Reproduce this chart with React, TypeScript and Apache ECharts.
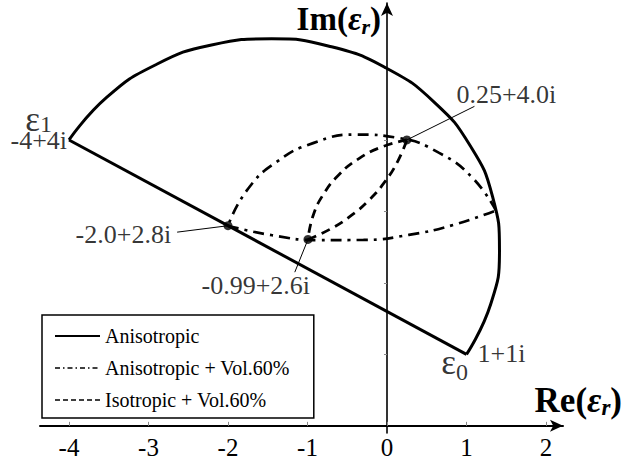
import React, { useEffect, useRef } from 'react';
import * as echarts from 'echarts';

const FONT = 'Liberation Serif';

const xTickValues = [-4, -3, -2, -1, 0, 1, 2];
const yTickValues = [1, 2, 3, 4, 5];

const seriesNames = ['Anisotropic', 'Anisotropic + Vol.60%', 'Isotropic + Vol.60%'];

// Anisotropic bound: straight segment eps1 -> eps0 and the circular arc over the top
const anisoLine = [[-4, 4], [1, 1]];
const anisoArc = [
  [1.0, 1.0], [1.303, 1.698], [1.415, 2.451], [1.328, 3.207], [1.049, 3.915],
  [0.596, 4.527], [0.0, 5.0], [-0.698, 5.303], [-1.451, 5.415], [-2.207, 5.328],
  [-2.915, 5.049], [-3.527, 4.596], [-4.0, 4.0],
];
// Anisotropic + Vol.60% (dash-dot lens)
const aniso60Upper = [
  [1.37, 3.014], [1.075, 3.471], [0.656, 3.819], [0.153, 4.027], [-0.389, 4.075],
  [-0.921, 3.959], [-1.394, 3.689], [-1.765, 3.291], [-2.0, 2.8],
];
const aniso60Lower = [
  [-2.0, 2.8], [-1.442, 2.666], [-0.87, 2.599], [-0.296, 2.601], [0.275, 2.672],
  [0.832, 2.81], [1.37, 3.014],
];
// Isotropic + Vol.60% (dashed lens)
const iso60Right = [
  [-0.994, 2.608], [-0.709, 2.756], [-0.449, 2.944], [-0.218, 3.167], [-0.023, 3.421],
  [0.135, 3.701], [0.25, 4.0],
];
const iso60Left = [
  [0.25, 4.0], [-0.068, 3.901], [-0.358, 3.736], [-0.605, 3.513], [-0.799, 3.241],
  [-0.931, 2.935], [-0.994, 2.608],
];

const keyPoints = [[0.25, 4.0], [-2.0, 2.8], [-0.994, 2.608]];
const keyPointLabels = ['0.25+4.0i', '-2.0+2.8i', '-0.99+2.6i'];
const leaderEnds = [[1.1, 4.47], [-2.64, 2.71], [-1.16, 2.15]];

const eps1 = [-4, 4];
const eps0 = [1, 1];
const eps1Label = '-4+4i';
const eps0Label = '1+1i';

const labelFont = { fontFamily: FONT, fontSize: 26, color: '#000', lineHeight: 20 };
const epsRich = {
  e: { fontFamily: FONT, fontSize: 35, color: '#000', lineHeight: 16 },
  s1: { fontFamily: FONT, fontSize: 24, color: '#000', lineHeight: 8, padding: [8, 0, 0, 0] },
  s0: { fontFamily: FONT, fontSize: 24, color: '#000', lineHeight: 10, padding: [18, 0, 0, 0] },
};
const makeTitleRich = (size: number, sub: number) => ({
  b: { fontFamily: FONT, fontSize: size, fontWeight: 'bold' as const, color: '#000', lineHeight: 28 },
  e: { fontFamily: FONT, fontSize: size, fontWeight: 'bold' as const, fontStyle: 'italic' as const, color: '#000', lineHeight: 28 },
  s: { fontFamily: FONT, fontSize: sub, fontWeight: 'bold' as const, fontStyle: 'italic' as const, color: '#000', lineHeight: 14, padding: [14, 0, 0, 0] },
});

const labelOffsets: number[][] = [[-17, -11], [-5, 3], [-38, 14]];
const labelAligns = ['left', 'right', 'center'];

function buildOption() {
  const solid = { color: '#000', width: 3, type: 'solid' as const };
  const dashDot = { color: '#000', width: 2.7, type: [11, 6, 3, 6], cap: 'butt' as const };
  const dashed = { color: '#000', width: 2.8, type: [9, 6], cap: 'butt' as const };

  const lineSeries = (name: string, data: number[][], lineStyle: any, smooth: boolean) => ({
    type: 'line',
    name,
    data,
    smooth,
    symbol: 'none',
    lineStyle,
    itemStyle: { color: '#000' },
    silent: true,
    z: 3,
  });

  const leaders = leaderEnds.map((p, i) => ({
    type: 'line',
    name: 'leader' + i,
    data: [p, keyPoints[i]],
    symbol: 'none',
    lineStyle: { color: '#000', width: 1 },
    silent: true,
    z: 4,
  }));

  const labelData: any[] = leaderEnds.map((p, i) => ({
    value: p,
    label: {
      show: true,
      formatter: keyPointLabels[i],
      position: labelOffsets[i],
      align: labelAligns[i],
      verticalAlign: 'middle',
      ...labelFont,
    },
  }));
  labelData.push(
    { value: eps1, label: { show: true, formatter: eps1Label, position: [-1, 2], align: 'right', verticalAlign: 'middle', ...labelFont } },
    { value: eps1, label: { show: true, formatter: '{e|ε}{s1|1}', position: [-16, -19], align: 'right', verticalAlign: 'middle', rich: epsRich } },
    { value: eps0, label: { show: true, formatter: eps0Label, position: [12, 0], align: 'left', verticalAlign: 'middle', ...labelFont } },
    { value: eps0, label: { show: true, formatter: '{e|ε}{s0|0}', position: [2.5, 9.5], align: 'right', verticalAlign: 'middle', rich: epsRich } },
  );

  return {
    animation: false,
    backgroundColor: '#fff',
    textStyle: { fontFamily: FONT, color: '#000' },
    grid: { left: 40, right: 60, top: 3, bottom: 29, containLabel: false, outerBoundsMode: 'none' },
    xAxis: {
      type: 'value',
      min: -4.365,
      max: 2.214,
      splitLine: { show: false },
      axisLine: {
        show: true,
        onZero: true,
        symbol: ['none', 'arrow'],
        symbolSize: [9, 13],
        lineStyle: { color: '#000', width: 2 },
      },
      axisTick: { show: true, inside: true, length: 4, customValues: xTickValues, lineStyle: { color: '#888', width: 1 } },
      axisLabel: { show: true, customValues: xTickValues, fontFamily: FONT, fontSize: 25, color: '#000', margin: 2, lineHeight: 24 },
      name: '{b|Re(}{e|ε}{s|r}{b|)}',
      nameLocation: 'end',
      nameGap: 59,
      nameMoveOverlap: false,
      nameTextStyle: { align: 'right', verticalAlign: 'bottom', padding: [0, 0, 11, 0], rich: makeTitleRich(35, 23) },
    },
    yAxis: {
      type: 'value',
      min: -0.1,
      max: 5.916,
      splitLine: { show: false },
      axisLine: {
        show: true,
        onZero: true,
        symbol: ['none', 'arrow'],
        symbolSize: [9, 13],
        lineStyle: { color: '#000', width: 1.6 },
      },
      axisTick: { show: true, inside: false, length: 3, customValues: yTickValues, lineStyle: { color: '#888', width: 1 } },
      axisLabel: { show: false },
      name: '{b|Im(}{e|ε}{s|r}{b|)}',
      nameLocation: 'end',
      nameGap: -16,
      nameMoveOverlap: false,
      nameTextStyle: { align: 'right', verticalAlign: 'middle', padding: [0, 6, 0, 0], rich: makeTitleRich(33, 22) },
    },
    legend: {
      orient: 'vertical',
      left: 42,
      top: 315,
      padding: [11, 24, 8, 12],
      itemGap: 12,
      itemWidth: 45,
      itemHeight: 20,
      borderColor: '#000',
      borderWidth: 1.5,
      borderRadius: 0,
      backgroundColor: '#fff',
      selectedMode: false,
      textStyle: { fontFamily: FONT, fontSize: 20, color: '#000', lineHeight: 20 },
      itemStyle: { opacity: 0 },
      data: [
        { name: seriesNames[0], lineStyle: { color: '#000', width: 2, type: 'solid' } },
        { name: seriesNames[1], lineStyle: { color: '#000', width: 1.3, type: [5, 3, 1.5, 3] } },
        { name: seriesNames[2], lineStyle: { color: '#000', width: 1.3, type: [5, 3] } },
      ],
    },
    series: [
      lineSeries(seriesNames[0], anisoLine, solid, false),
      lineSeries(seriesNames[0], anisoArc, solid, true),
      lineSeries(seriesNames[1], aniso60Upper, dashDot, true),
      lineSeries(seriesNames[1], aniso60Lower, dashDot, true),
      lineSeries(seriesNames[2], iso60Right, dashed, true),
      lineSeries(seriesNames[2], iso60Left, dashed, true),
      ...leaders,
      {
        type: 'scatter',
        name: 'points',
        data: keyPoints,
        symbol: 'circle',
        symbolSize: 9,
        itemStyle: { color: '#000' },
        silent: true,
        z: 6,
      },
      {
        type: 'scatter',
        name: 'labels',
        data: labelData,
        symbolSize: 2,
        itemStyle: { color: 'rgba(0,0,0,0)' },
        silent: true,
        z: 7,
      },
    ],
  };
}

export default function App() {
  const ref = useRef<HTMLDivElement>(null);
  useEffect(() => {
    if (!ref.current) return;
    const chart = echarts.init(ref.current, undefined, { renderer: 'svg' });
    chart.setOption(buildOption() as any);
    return () => chart.dispose();
  }, []);
  return (
    <div
      ref={ref}
      style={{ position: 'fixed', left: 0, top: 0, width: 623, height: 462, background: '#fff' }}
    />
  );
}
